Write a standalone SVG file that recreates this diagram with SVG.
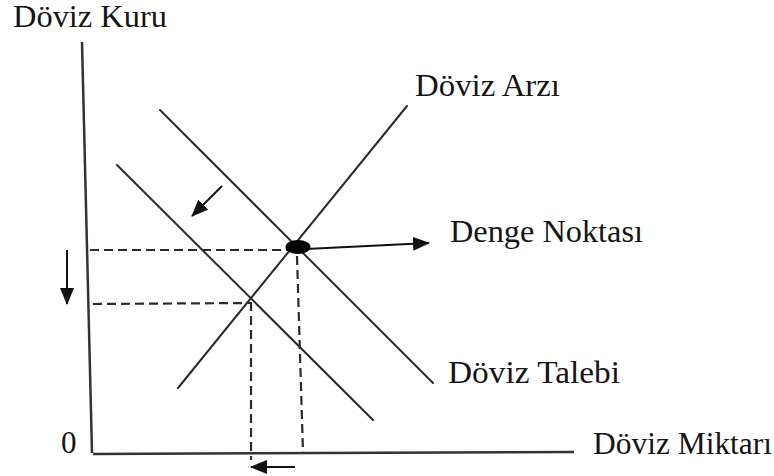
<svg xmlns="http://www.w3.org/2000/svg" width="774" height="476" viewBox="0 0 774 476">
<style>
.ln{stroke:#2a2a2a;stroke-width:2;fill:none;stroke-linecap:round}
.ax{stroke:#333;stroke-width:2.5;fill:none}
.ds{stroke:#2a2a2a;stroke-width:2.2;fill:none;stroke-dasharray:9,5}
.t{font-family:"Liberation Serif","Times New Roman",serif;font-size:31px;fill:#141414}
.ar{stroke:#111;stroke-width:2;fill:none}
</style>
<defs>
<marker id="ah" viewBox="0 0 17 14" refX="16" refY="7" markerWidth="17" markerHeight="14" markerUnits="userSpaceOnUse" orient="auto">
<path d="M0,0 L17,7 L0,14 Z" fill="#111"/>
</marker>
</defs>
<g id="axes">
<line class="ax" x1="82" y1="42" x2="92" y2="453"/>
<line class="ax" x1="93" y1="454" x2="574" y2="452"/>
</g>
<g id="lines">
<line id="supply" class="ln" x1="178" y1="388" x2="407" y2="106"/>
<line id="demand1" class="ln" x1="160" y1="110" x2="433" y2="383"/>
<line id="demand2" class="ln" x1="117" y1="165" x2="373" y2="420"/>
</g>
<g id="connectors">
<line class="ds" x1="90" y1="250" x2="288" y2="250"/>
<line class="ds" x1="93" y1="304" x2="250" y2="303"/>
<line class="ds" x1="251" y1="302" x2="251" y2="460"/>
<line class="ds" x1="297" y1="256" x2="303" y2="452"/>
<line class="ar" x1="306" y1="249" x2="429" y2="243" marker-end="url(#ah)"/>
<line class="ar" x1="67" y1="250" x2="67" y2="304" marker-end="url(#ah)"/>
<line class="ar" x1="222" y1="186" x2="192" y2="216" marker-end="url(#ah)"/>
<line class="ar" x1="295" y1="467" x2="251" y2="467" marker-end="url(#ah)"/>
</g>
<g id="equilibrium">
<ellipse cx="298" cy="247" rx="12.5" ry="7" fill="#000"/>
</g>
<g id="labels">
<text class="t" x="13" y="27" textLength="154" lengthAdjust="spacingAndGlyphs">Döviz Kuru</text>
<text class="t" x="415" y="96" textLength="145" lengthAdjust="spacingAndGlyphs">Döviz Arzı</text>
<text class="t" x="450" y="242" textLength="193" lengthAdjust="spacingAndGlyphs">Denge Noktası</text>
<text class="t" x="448" y="383" textLength="172" lengthAdjust="spacingAndGlyphs">Döviz Talebi</text>
<text class="t" x="593" y="454" textLength="179" lengthAdjust="spacingAndGlyphs">Döviz Miktarı</text>
<text class="t" x="61" y="453" font-size="28">0</text>
</g>
</svg>
